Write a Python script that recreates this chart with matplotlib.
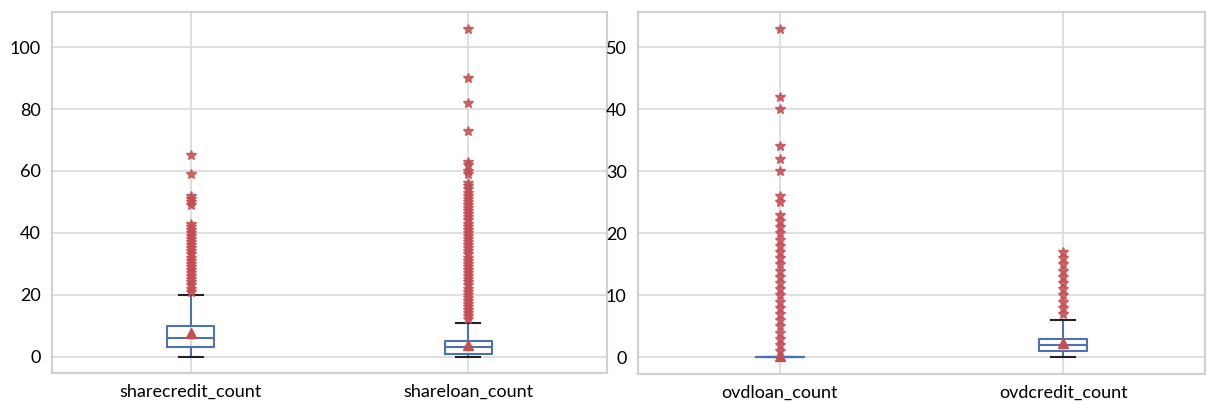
import matplotlib
matplotlib.use("Agg")
import matplotlib.pyplot as plt

plt.rcParams['font.family'] = ['Lato', 'DejaVu Sans']

# box statistics (counts are integers)
left_labels = ['sharecredit_count', 'shareloan_count']
left_q1 = [3, 1]
left_med = [6, 3]
left_q3 = [10, 5]
left_whislo = [0, 0]
left_whishi = [20, 11]
left_mean = [7.5, 3.9]
left_fliers = [
    list(range(21, 44)) + [49, 50, 51, 52, 59, 65],
    list(range(12, 57)) + [59, 60, 62, 63, 73, 82, 90, 106],
]

right_labels = ['ovdloan_count', 'ovdcredit_count']
right_q1 = [0, 1]
right_med = [0, 2]
right_q3 = [0, 3]
right_whislo = [0, 0]
right_whishi = [0, 6]
right_mean = [0.3, 2.3]
right_fliers = [
    list(range(1, 23)) + [23, 25, 26, 30, 32, 34, 40, 42, 53],
    list(range(7, 18)),
]

blue = '#4C72B0'
red = '#C44E52'


def make_stats(labels, q1, med, q3, lo, hi, mean, fliers):
    stats = []
    for i in range(len(labels)):
        stats.append({'label': labels[i], 'q1': q1[i], 'med': med[i], 'q3': q3[i],
                      'whislo': lo[i], 'whishi': hi[i], 'mean': mean[i],
                      'fliers': fliers[i]})
    return stats


def draw(ax, stats):
    ax.bxp(stats, showmeans=True, widths=0.17,
           boxprops=dict(color=blue, linewidth=1.5),
           whiskerprops=dict(color=blue, linewidth=1.5),
           capprops=dict(color='#222222', linewidth=1.5),
           medianprops=dict(color=blue, linewidth=1.5),
           meanprops=dict(marker='^', markerfacecolor=red, markeredgecolor=red,
                          markersize=7),
           flierprops=dict(marker='*', markerfacecolor=red, markeredgecolor=red,
                           markersize=7, alpha=0.85))
    ax.grid(True, color='#d9d9d9', linewidth=1.2)
    ax.set_axisbelow(True)
    for s in ax.spines.values():
        s.set_color('#d0d0d0')
        s.set_linewidth(1.5)
    ax.tick_params(length=0, labelsize=13, pad=8)
    ax.margins(y=0.05)


fig = plt.figure(figsize=(12.08, 4.05), dpi=100)
ax1 = fig.add_axes([0.043, 0.079, 0.4595, 0.891])
ax2 = fig.add_axes([0.528, 0.077, 0.4695, 0.893])

draw(ax1, make_stats(left_labels, left_q1, left_med, left_q3, left_whislo,
                     left_whishi, left_mean, left_fliers))
draw(ax2, make_stats(right_labels, right_q1, right_med, right_q3, right_whislo,
                     right_whishi, right_mean, right_fliers))

ax1.set_yticks([0, 20, 40, 60, 80, 100])
ax2.set_yticks([0, 10, 20, 30, 40, 50])

fig.savefig('out.png', dpi=100)
